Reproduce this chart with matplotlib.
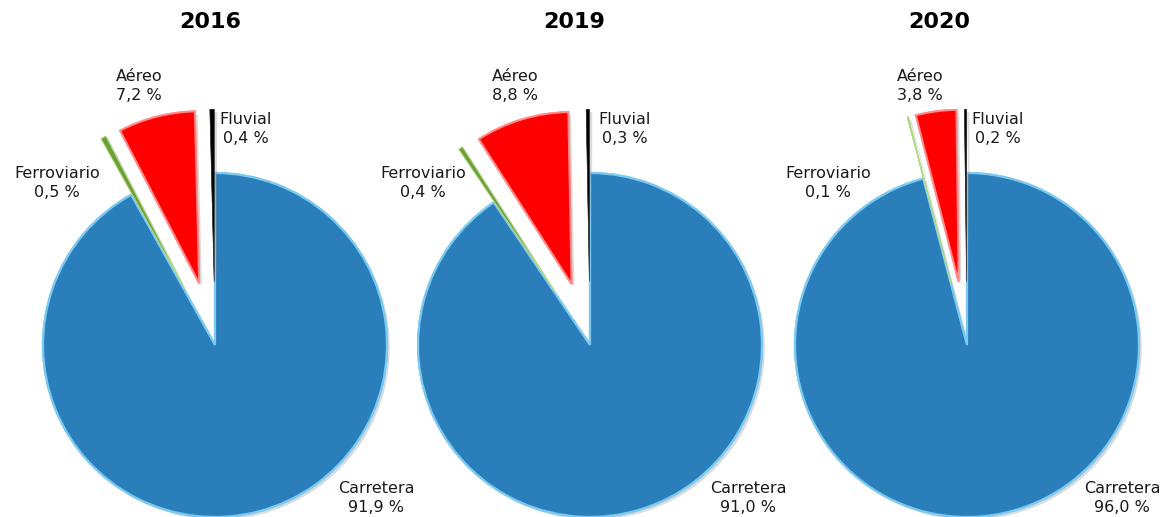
import matplotlib
matplotlib.use("Agg")
import matplotlib.pyplot as plt
import matplotlib.patheffects as pe

# data
years = ["2016", "2019", "2020"]
modes = ["Carretera", "Ferroviario", "Aéreo", "Fluvial"]
shares_2016 = [91.9, 0.5, 7.2, 0.4]
shares_2019 = [91.0, 0.4, 8.8, 0.3]
shares_2020 = [96.0, 0.1, 3.8, 0.2]
all_shares = [shares_2016, shares_2019, shares_2020]

# style / layout (pixels, y measured from top)
W, H = 1161, 517
R = 172
pie_cx = [215, 590, 967]
pie_cy = 345
title_x = [210, 574, 939]
title_y = 22
explode_frac = [0.0, 0.37, 0.37, 0.37]
face_cols = ["#2A7EBA", "#6E9F35", "#FF0000", "#000000"]
edge_cols = ["#7CCAF2", "#B8DC8C", "#FF8A8A", "#444444"]
edge_lw = [1.6, 0.6, 1.4, 0.4]
# label offsets from pie centre (px, y down)
label_off = [
    [(161, 153), (-158, -162), (-76, -259), (31, -216)],
    [(158, 153), (-167, -162), (-75, -259), (35, -216)],
    [(155, 153), (-139, -162), (-47, -259), (31, -216)],
]

fig = plt.figure(figsize=(W / 100, H / 100), dpi=100)
ax = fig.add_axes([0, 0, 1, 1])

for i, shares in enumerate(all_shares):
    cx, cy = pie_cx[i], H - pie_cy
    wedges, _ = ax.pie(shares, startangle=90, counterclock=False,
                       colors=face_cols, radius=R, center=(cx, cy),
                       explode=[e * R for e in explode_frac])
    for w, ec, lw in zip(wedges, edge_cols, edge_lw):
        w.set_edgecolor(ec)
        w.set_linewidth(lw)
        w.set_path_effects([pe.withSimplePatchShadow(offset=(2, -2),
                                                     shadow_rgbFace="#888888",
                                                     alpha=0.3),
                            pe.Normal()])
    for j, (name, v) in enumerate(zip(modes, shares)):
        dx, dy = label_off[i][j]
        txt = name + "\n" + f"{v:.1f}".replace(".", ",") + " %"
        ax.text(cx + dx, cy - dy, txt, ha="center", va="center",
                multialignment="center", fontsize=11.5, linespacing=1.3,
                color="#1a1a1a", family="DejaVu Sans")
    ax.text(title_x[i], H - title_y, years[i], ha="center", va="center",
            fontsize=16, fontweight="heavy", family="DejaVu Sans")

ax.set_xlim(0, W)
ax.set_ylim(0, H)
ax.set_aspect("equal")
ax.axis("off")
fig.savefig("out.png", dpi=100)
